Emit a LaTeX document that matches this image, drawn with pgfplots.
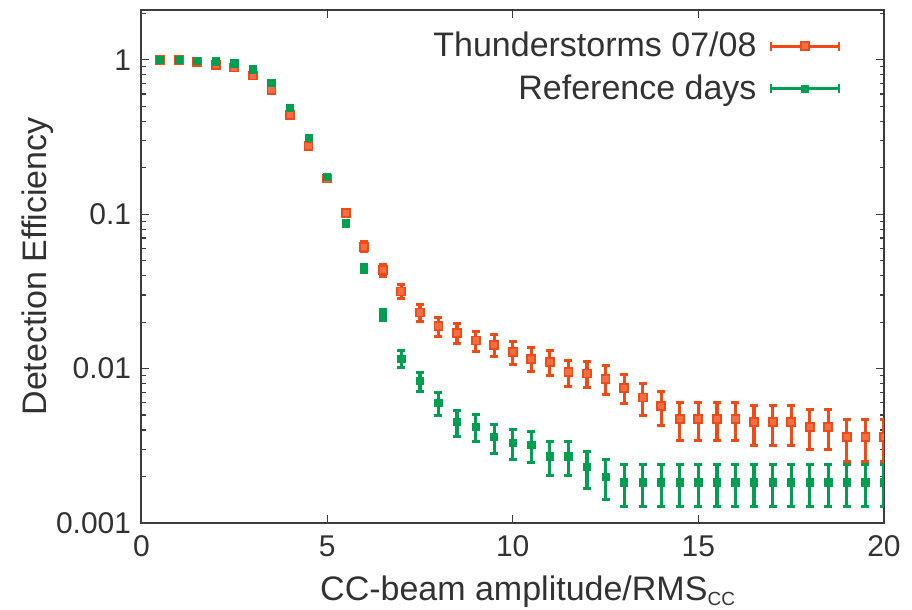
\documentclass[border=0pt]{standalone}
\usepackage{fontspec}
\setmainfont{Liberation Sans}
\usepackage{pgfplots}
\pgfplotsset{compat=1.18}
\usepackage{pgfplotstable}
\definecolor{tred}{RGB}{240,74,22}
\definecolor{tgreen}{RGB}{0,158,80}
\definecolor{axgray}{RGB}{60,60,60}
\definecolor{txtgray}{RGB}{50,50,50}

\pgfplotstableread{
x y ey
0.5 1.000 0.000
1.0 1.000 0.000
1.5 0.970 0.003
2.0 0.930 0.005
2.5 0.890 0.006
3.0 0.790 0.008
3.5 0.634 0.009
4.0 0.440 0.009
4.5 0.276 0.0085
5.0 0.170 0.007
5.5 0.102 0.0058
6.0 0.0615 0.0046
6.5 0.0434 0.0039
7.0 0.0316 0.0033
7.5 0.0231 0.0029
8.0 0.0188 0.0026
8.5 0.0170 0.0025
9.0 0.0152 0.0023
9.5 0.0143 0.0023
10.0 0.0128 0.0021
10.5 0.0116 0.0020
11.0 0.0110 0.0020
11.5 0.0095 0.0018
12.0 0.0093 0.0018
12.5 0.0086 0.0018
13.0 0.0075 0.0016
13.5 0.0065 0.0015
14.0 0.0057 0.0014
14.5 0.0047 0.0013
15.0 0.0047 0.0013
15.5 0.0047 0.0013
16.0 0.0047 0.0013
16.5 0.0045 0.0013
17.0 0.0045 0.0013
17.5 0.0045 0.0013
18.0 0.0042 0.0012
18.5 0.0042 0.0012
19.0 0.0036 0.0011
19.5 0.0036 0.0011
20.0 0.0036 0.0011
}\thunder

\pgfplotstableread{
x y ey
0.5 1.000 0.000
1.0 1.000 0.000
1.5 0.980 0.002
2.0 0.975 0.002
2.5 0.946 0.003
3.0 0.866 0.0044
3.5 0.707 0.0059
4.0 0.490 0.0065
4.5 0.312 0.0060
5.0 0.174 0.0049
5.5 0.087 0.0036
6.0 0.0445 0.0027
6.5 0.0223 0.0019
7.0 0.0116 0.0014
7.5 0.0083 0.0012
8.0 0.0060 0.0010
8.5 0.0045 0.00087
9.0 0.0042 0.00084
9.5 0.0036 0.00077
10.0 0.0033 0.00074
10.5 0.0032 0.00073
11.0 0.0027 0.00067
11.5 0.0027 0.00067
12.0 0.0023 0.00062
12.5 0.0020 0.00058
13.0 0.00183 0.00055
13.5 0.00183 0.00055
14.0 0.00183 0.00055
14.5 0.00183 0.00055
15.0 0.00183 0.00055
15.5 0.00183 0.00055
16.0 0.00183 0.00055
16.5 0.00183 0.00055
17.0 0.00183 0.00055
17.5 0.00183 0.00055
18.0 0.00183 0.00055
18.5 0.00183 0.00055
19.0 0.00183 0.00055
19.5 0.00183 0.00055
20.0 0.00183 0.00055
}\refdays

\begin{document}
\begin{tikzpicture}
\begin{axis}[
  scale only axis,
  width=371.25pt, height=256.5pt,
  xmin=0, xmax=20,
  ymode=log, ymin=0.001, ymax=2.1,
  xtick={0,5,10,15,20},
  ytick={0.001,0.01,0.1,1},
  yticklabels={0.001,0.01,0.1,1},
  minor ytick={0.002,0.003,0.004,0.005,0.006,0.007,0.008,0.009,
               0.02,0.03,0.04,0.05,0.06,0.07,0.08,0.09,
               0.2,0.3,0.4,0.5,0.6,0.7,0.8,0.9,2},
  tick align=inside,
  major tick length=4pt, minor tick length=2.2pt,
  axis line style={axgray, line width=1pt},
  every tick/.style={axgray, line width=0.6pt},
  tick label style={font=\fontsize{15}{17}\selectfont, text=txtgray},
  /pgf/number format/assume math mode=true,
  xticklabel style={anchor=north, inner sep=0pt, yshift=-6pt},
  yticklabel style={anchor=east, inner sep=0pt, xshift=-5pt},
  xlabel={CC-beam amplitude/RMS\raisebox{-0.3ex}{\fontsize{9.5}{10}\selectfont CC}},
  ylabel={Detection Efficiency},
  label style={font=\fontsize{17}{19}\selectfont, text=txtgray},
  xlabel style={at={(axis description cs:0.52,-0.151)}, anchor=base},
  ylabel style={at={(axis description cs:-0.1273,0.5)}, anchor=base},
  legend cell align=right,
  legend style={draw=none, fill=none, font=\fontsize{17}{19}\selectfont,
    text=txtgray, legend plot pos=right,
    at={(axis description cs:0.942,0.965)}, anchor=north east,
    inner sep=0pt, row sep=3.5pt},
  legend image code/.code={
    \path (0pt,0pt);
    \draw[line width=1.6pt] (5pt,0pt) -- (39pt,0pt);
    \draw[line width=1.4pt] (5pt,-2.2pt) -- (5pt,2.2pt);
    \draw[line width=1.4pt] (39pt,-2.2pt) -- (39pt,2.2pt);
    \draw plot coordinates {(22pt,0pt)};
  },
  clip marker paths=true,
]
\addplot[only marks, color=tred, mark=square*,
  mark size=2pt, mark options={fill=tred!80!white, draw=tred, line width=0.9pt},
  error bars/.cd, y dir=both, y explicit,
  error bar style={line width=1.6pt, tred},
  error mark options={rotate=90, mark size=2pt, line width=1.5pt, tred}]
  table[x=x, y=y, y error=ey] {\thunder};
\addlegendentry{Thunderstorms 07/08}
\addplot[only marks, color=tgreen, mark=square*,
  mark size=1.8pt, mark options={fill=tgreen, draw=tgreen},
  error bars/.cd, y dir=both, y explicit,
  error bar style={line width=1.6pt, tgreen},
  error mark options={rotate=90, mark size=2pt, line width=1.5pt, tgreen}]
  table[x=x, y=y, y error=ey] {\refdays};
\addlegendentry{Reference days}
\end{axis}
\pgfresetboundingbox
\path[use as bounding box] (-70.75pt,-43.5pt) rectangle (385.25pt,261.5pt);
\end{tikzpicture}
\end{document}
